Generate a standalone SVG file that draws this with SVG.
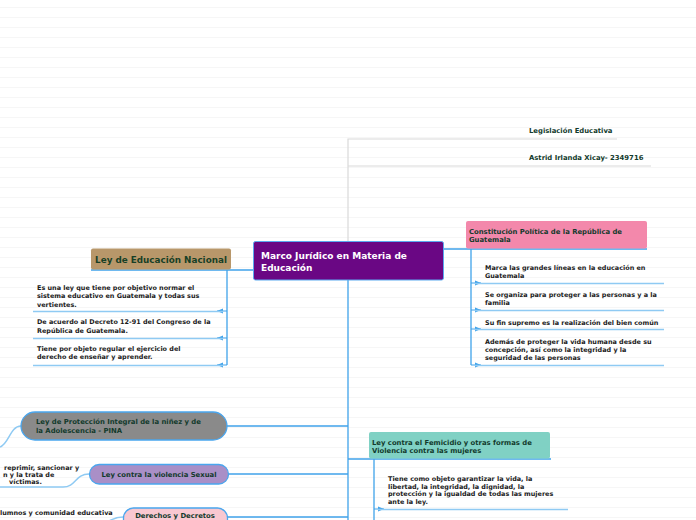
<svg xmlns="http://www.w3.org/2000/svg" width="696" height="520" viewBox="0 0 696 520">
<defs>
<pattern id="bg" x="0" y="0" width="696" height="10" patternUnits="userSpaceOnUse">
<rect x="0" y="0" width="696" height="10" fill="#ffffff"/>
<rect x="0" y="7" width="696" height="1" fill="#f6f6f6"/>
</pattern>
<marker id="ar" viewBox="0 0 6 6" refX="6" refY="3" markerWidth="6" markerHeight="6" orient="auto" markerUnits="userSpaceOnUse">
<path d="M0,0.5 L6,3 L0,5.5 Z" fill="#3fa2ea"/>
</marker>
</defs>
<style>
text{font-family:"DejaVu Sans","Verdana",sans-serif;font-weight:bold}
.c{font-size:6.45px;fill:#1a1a1a}
.n{font-size:6.85px;fill:#123a2c}
.g{stroke:#d9d9d9;stroke-width:1.2;fill:none}
.b{stroke:#3fa2ea;stroke-width:1.3;fill:none}
.u{stroke:#8fcaf3;stroke-width:1.5;fill:none}
.a{stroke:#3fa2ea;stroke-width:1;fill:none;marker-end:url(#ar)}
</style>
<rect width="696" height="520" fill="url(#bg)"/>

<g id="connectors">
<path class="g" d="M348,241 V139 H617"/>
<path class="g" d="M348,166 H651"/>
<path class="b" d="M348,280 V520"/>
<path class="b" d="M444,249 H647"/>
<path class="b" d="M471,249 V365"/>
<path class="a" d="M471,283 H481"/>
<path class="a" d="M471,310 H481"/>
<path class="a" d="M471,329 H481"/>
<path class="a" d="M471,365 H481"/>
<path class="u" d="M475,283.5 H664 M475,310.5 H664 M475,329.5 H664 M475,365.5 H664"/>
<path class="b" d="M253,270 H91"/>
<path class="b" d="M227,270 V365"/>
<path class="a" d="M227,311 H217"/>
<path class="a" d="M227,338 H217"/>
<path class="a" d="M227,365 H217"/>
<path class="u" d="M33,311.5 H223 M33,338.5 H223 M33,365.5 H223"/>
<path class="b" d="M227,426 H348"/>
<path class="b" d="M229,474 H348"/>
<path class="b" d="M227,517 H348"/>
<path class="b" d="M348,459 H551"/>
<path class="b" d="M374,459 V520"/>
<path class="a" d="M374,509 H384"/>
<path class="u" d="M378,509.5 H568"/>
<path class="u" d="M21,426 C10,426 9,444 0,447"/>
<path class="u" d="M89,474 C75,474 76,487 63,487 H0"/>
<path class="u" d="M123,517 C112,517 111,522 100,524"/>
</g>

<g id="title1"><text class="n" x="529" y="132.5">Legislación Educativa</text></g>
<g id="title2"><text class="n" x="529" y="159.5">Astrid Irlanda Xicay- 2349716</text></g>

<g id="central">
<rect x="253.5" y="241.5" width="190" height="38.5" rx="2" fill="#6a0784" stroke="#5aaaf0" stroke-width="1"/>
<text x="261" y="258.5" style="font-size:9px;fill:#ffffff">Marco Jurídico en Materia de</text>
<text x="261" y="270.5" style="font-size:9px;fill:#ffffff">Educación</text>
</g>

<g id="constitucion">
<rect x="466" y="221" width="181" height="27.5" rx="2" fill="#f388ab"/>
<text class="n" x="469" y="233.5">Constitución Política de la República de</text>
<text class="n" x="469" y="241.5">Guatemala</text>
</g>
<g id="c1"><text class="c" x="485" y="270">Marca las grandes líneas en la educación en</text><text class="c" x="485" y="278">Guatemala</text></g>
<g id="c2"><text class="c" x="485" y="297">Se organiza para proteger a las personas y a la</text><text class="c" x="485" y="305">familia</text></g>
<g id="c3"><text class="c" x="485" y="324.5">Su fin supremo es la realización del bien común</text></g>
<g id="c4"><text class="c" x="485" y="344">Además de proteger la vida humana desde su</text><text class="c" x="485" y="352">concepción, así como la integridad y la</text><text class="c" x="485" y="360">seguridad de las personas</text></g>

<g id="educacion">
<rect x="91" y="248.5" width="140" height="21" rx="2" fill="#b8976a"/>
<text x="161" y="262.5" text-anchor="middle" style="font-size:8.8px;fill:#173f26">Ley de Educación Nacional</text>
</g>
<g id="e1"><text class="c" x="37" y="290">Es una ley que tiene por objetivo normar el</text><text class="c" x="37" y="298.3">sistema educativo en Guatemala y todas sus</text><text class="c" x="37" y="306.6">vertientes.</text></g>
<g id="e2"><text class="c" x="37" y="324.2">De acuerdo al Decreto 12-91 del Congreso de la</text><text class="c" x="37" y="332.6">República de Guatemala.</text></g>
<g id="e3"><text class="c" x="37" y="351">Tiene por objeto regular el ejercicio del</text><text class="c" x="37" y="359.3">derecho de enseñar y aprender.</text></g>

<g id="pina">
<rect x="21" y="412" width="206" height="28" rx="14" fill="#8a8a8a" stroke="#4aa6ee" stroke-width="1.3"/>
<text class="n" x="36" y="424.3">Ley de Protección Integral de la niñez y de</text>
<text class="n" x="36" y="432.8">la Adolescencia - PINA</text>
</g>

<g id="sexual">
<rect x="89.5" y="464.5" width="139" height="19.5" rx="9.75" fill="#a98fc7" stroke="#4aa6ee" stroke-width="1.3"/>
<text class="n" x="159" y="477" text-anchor="middle">Ley contra la violencia Sexual</text>
</g>
<g id="s1"><text class="c" x="4" y="470">reprimir, sancionar y</text><text class="c" x="3" y="477">n y la trata de</text><text class="c" x="9" y="484">víctimas.</text></g>

<g id="derechos">
<rect x="123.5" y="508" width="104" height="24" rx="10" fill="#f9c8d1" stroke="#4aa6ee" stroke-width="1.3"/>
<text class="n" x="175" y="518" text-anchor="middle">Derechos y Decretos</text>
</g>
<g id="d1"><text class="c" x="0" y="514.5">lumnos y comunidad educativa</text></g>

<g id="femicidio">
<rect x="369" y="432" width="181" height="26.5" rx="2" fill="#80d1c4"/>
<text class="n" x="372" y="444.5">Ley contra el Femicidio y otras formas de</text>
<text class="n" x="372" y="452.5">Violencia contra las mujeres</text>
</g>
<g id="f1"><text class="c" x="388" y="480.8">Tiene como objeto garantizar la vida, la</text><text class="c" x="388" y="488.5">libertad, la integridad, la dignidad, la</text><text class="c" x="388" y="496.2">protección y la igualdad de todas las mujeres</text><text class="c" x="388" y="504">ante la ley.</text></g>
</svg>
